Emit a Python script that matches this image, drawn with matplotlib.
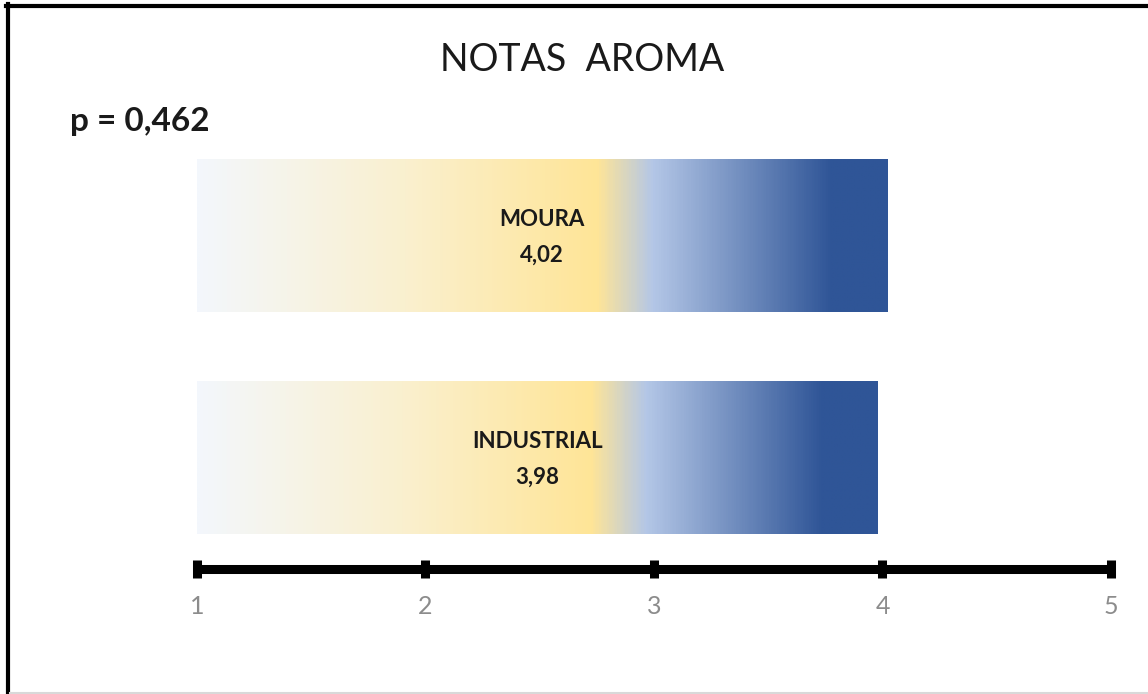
import numpy as np
import matplotlib
matplotlib.use("Agg")
import matplotlib.pyplot as plt
from matplotlib.colors import LinearSegmentedColormap
from matplotlib.lines import Line2D

# data
grupos = ["INDUSTRIAL", "MOURA"]
notas = [3.98, 4.02]
etiquetas = ["3,98", "4,02"]
ticks = [1, 2, 3, 4, 5]
titulo = "NOTAS  AROMA"
p_texto = "p = 0,462"

plt.rcParams['font.family'] = ['Lato', 'DejaVu Sans']

W, H = 1148, 694
fig = plt.figure(figsize=(W / 100, H / 100), dpi=100)
ax = fig.add_axes([0, 0, 1, 1])
ax.set_axis_off()

# 1 -> px 197, 5 -> px 1111 ; bars spaced 222 px, INDUSTRIAL centre at px 457.5
px_unit = (1111 - 197) / 4.0
ax.set_xlim(1 - 197 / px_unit, 1 + (W - 197) / px_unit)
ax.set_ylim(-(H - 457.5) / 222.0, 457.5 / 222.0)

# gradient like the excel fill
cmap = LinearSegmentedColormap.from_list("aroma", [
    (0.0, "#f3f7fc"),
    (0.30, "#faf0cf"),
    (0.58, "#ffe597"),
    (0.66, "#b4c7e7"),
    (0.92, "#2f5597"),
    (1.0, "#2f5597"),
])
grad = np.linspace(0, 1, 600).reshape(1, -1)

alto = 0.685
for i, (g, v, e) in enumerate(zip(grupos, notas, etiquetas)):
    ax.imshow(grad, cmap=cmap, aspect='auto', interpolation='bilinear',
              extent=(1, v, i - alto / 2, i + alto / 2), zorder=1)
    xc = (1 + v) / 2
    ax.text(xc, i + 0.07, g, ha='center', va='center', fontsize=16,
            fontweight='bold', color='#1a1a1a', zorder=3)
    ax.text(xc, i - 0.09, e, ha='center', va='center', fontsize=16,
            fontweight='bold', color='#1a1a1a', zorder=3)

# axis line with tick caps
y_eje = -0.5
ax.plot([ticks[0], ticks[-1]], [y_eje, y_eje], color='black', lw=6.5,
        solid_capstyle='butt', zorder=2)
ax.plot(ticks, [y_eje] * len(ticks), ls='none', marker='|', markersize=13,
        markeredgewidth=6.5, color='black', zorder=2)
for t in ticks:
    ax.text(t, y_eje - 0.17, str(t), ha='center', va='center', fontsize=18,
            color='#8c8c8c')

# titles
fig.text(582 / W, 1 - 60 / H, titulo, ha='center', va='center', fontsize=27,
         color='#1a1a1a')
fig.text(70 / W, 1 - 122 / H, p_texto, ha='left', va='center', fontsize=24,
         fontweight='bold', color='#1a1a1a')

# frame of the original screenshot
fig.add_artist(Line2D([6 / W, 1], [1 - 5.5 / H, 1 - 5.5 / H], color='black', lw=3))
fig.add_artist(Line2D([8 / W, 8 / W], [0, 1 - 4 / H], color='black', lw=3))
fig.add_artist(Line2D([10 / W, 1], [1.5 / H, 1.5 / H], color='#d9d9d9', lw=1.5))

fig.savefig("out.png", dpi=100)
